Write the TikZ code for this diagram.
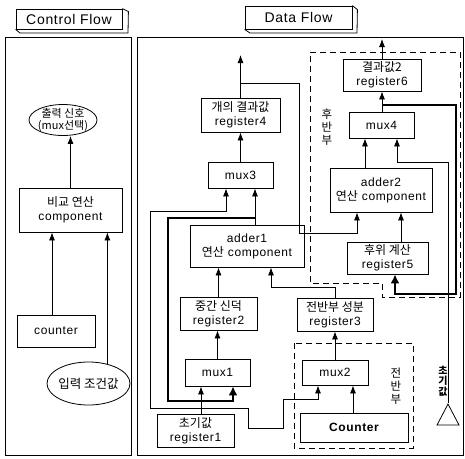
\documentclass[tikz,border=0pt]{standalone}
\usepackage{fontspec}
\setmainfont{Liberation Sans}[LetterSpace=5]
\newfontfamily\kor{Noto Sans CJK KR}
\usetikzlibrary{arrows.meta,shapes.geometric}
\begin{document}
\begin{tikzpicture}[x=1pt,y=-1pt,
  box/.style={draw,line width=0.8pt,inner sep=0pt,align=center,font=\fontsize{12}{14}\selectfont},
  arr/.style={draw,line width=0.8pt,-{Latex[length=8pt,width=6pt]}},
  thk/.style={draw,line width=2.5pt,-{Latex[length=9pt,width=9pt]}},
  frame/.style={draw,line width=1pt},
  grp/.style={draw,line width=1pt,dash pattern=on 6pt off 4pt},
  vlab/.style={align=center,inner sep=0pt,font=\kor\fontsize{11.5}{13}\selectfont},
  tab/.style={draw,line width=0.8pt,inner sep=0pt,font=\fontsize{14}{16}\selectfont},
  ell/.style={ellipse,draw,line width=0.8pt,inner sep=0pt},
  tri/.style={isosceles triangle,isosceles triangle stretches,shape border rotate=90,draw,line width=0.8pt,inner sep=0pt,minimum width=22pt,minimum height=21pt}]
\useasboundingbox (0,0) rectangle (465,458);
\fill[white] (0,0) rectangle (465,458);

% tabs
\node[tab,minimum width=106pt,minimum height=20pt] (cf) at (69,19) {Control Flow};
\draw[line width=0.8pt] (cf.north east) -- ++(6,3) -- (128,33) -- (20,33) -- (cf.south west);
\node[tab,minimum width=107pt,minimum height=23pt] (df) at (298.5,17.5) {Data Flow};
\draw[line width=0.8pt] (df.north east) -- ++(5,4) -- (357,33) -- (250,33) -- (df.south west);

% panels
\draw[frame] (5,37) rectangle (131,455);
\draw[frame] (137,37) rectangle (463,455);

% control flow
\node[ell,minimum width=68pt,minimum height=31pt] (out) at (63,120) {};
\node[align=center,inner sep=0pt,font=\kor\fontsize{11}{12.5}\selectfont] (outT) at (out) {출력 신호\\(mux선택)};
\node[box,minimum width=103pt,minimum height=44pt] (cmp) at (70.5,210) {{\kor 비교 연산}\\component};
\node[box,minimum width=78pt,minimum height=32pt] (cnt) at (56,331) {counter};
\node[ell,minimum width=83pt,minimum height=43pt] (cond) at (88.5,383.5) {};
\node[inner sep=0pt,font=\kor\fontsize{12.5}{14}\selectfont] (condT) at (cond) {입력 조건값};

\draw[arr] (cmp.north) -- (cmp.north |- out.south);
\draw[arr] ([xshift=-4pt]cnt.north) -- ([xshift=-4pt]cnt.north |- cmp.south);
\draw[arr] (cond.46) -- (cond.46 |- cmp.south);

% data flow nodes
\node[box,minimum width=79pt,minimum height=34pt] (r4) at (240.5,115) {{\kor 개의 결과값}\\register4};
\node[box,minimum width=65pt,minimum height=26pt] (m3) at (240.5,175) {mux3};
\node[box,minimum width=114pt,minimum height=42pt] (a1) at (247,246) {adder1\\{\kor 연산} component};
\node[box,minimum width=77pt,minimum height=33pt] (r2) at (218.5,313.5) {{\kor 중간 신덕}\\register2};
\node[box,minimum width=65pt,minimum height=27pt] (m1) at (217.5,372.5) {mux1};
\node[box,minimum width=77pt,minimum height=33pt] (r1) at (195.5,430.5) {{\kor 초기값}\\register1};
\node[box,minimum width=76pt,minimum height=33pt] (r3) at (335,314.5) {{\kor 전반부 성분}\\register3};
\node[box,minimum width=66pt,minimum height=25pt] (m2) at (335,372.5) {mux2};
\node[box,minimum width=108pt,minimum height=29pt,font=\fontsize{12}{14}\selectfont\bfseries] (c2) at (354,427.5) {Counter};
\node[box,minimum width=78pt,minimum height=32pt] (r6) at (382,75) {{\kor 결과값2}\\register6};
\node[box,minimum width=65pt,minimum height=26pt] (m4) at (381.5,125) {mux4};
\node[box,minimum width=102pt,minimum height=44pt] (a2) at (381,190) {adder2\\{\kor 연산} component};
\node[box,minimum width=81pt,minimum height=32pt] (r5) at (387.5,258) {{\kor 후위 계산}\\register5};
\node[tri,anchor=apex] (init) at (448,403) {};

\node[vlab] (lb1) at (327,127) {후\\반\\부};
\node[vlab] (lb2) at (396,386) {전\\반\\부};
\node[vlab,font=\kor\bfseries\fontsize{10}{10.5}\selectfont] (lb3) at (443,381) {초\\기\\값};

% groups
\draw[grp] (294,343) rectangle (413,448);
\draw[grp] (310,52) -- (460,52) -- (460,297) -- (382,297) -- (382,283) -- (310,283) -- cycle;

% connectors
\coordinate (o4) at (240.5,55);
\coordinate (o6) at (382,39);
\draw[arr] (r4.north) -- (o4);
\draw[arr] (r4.north |- 0,83) -| (299,233) -| ([xshift=-24pt]a2.south);
\draw[arr] (m3.north) -- (r4.south);
\draw[arr] ([xshift=14.5pt]m3.south |- a1.north) -- ([xshift=14.5pt]m3.south);
\draw[thk] ([xshift=14.5pt]m3.south |- 0,218) -| (168,401) -| ([xshift=15.5pt]m1.south);
\draw[arr] ([xshift=-16.5pt]m1.south |- r1.north) -- ([xshift=-16.5pt]m1.south);
\draw[arr] ([xshift=-16.5pt]m1.south |- 0,408) -| (150,211) -| ([xshift=-14.5pt]m3.south);
\draw[arr] ([xshift=-16.5pt]m1.south |- 0,408) -| (248,428) -| (283,399) -| ([xshift=-17pt]m2.south);
\draw[arr] (r2.north) -- (r2.north |- a1.south);
\draw[arr] (m1.north) -- (m1.north |- r2.south);
\draw[arr] (r3.north) -- ++(0,-10) -| ([xshift=24pt]a1.south);
\draw[arr] (m2.north) -- (r3.south);
\draw[arr] ([xshift=18pt]m2.south |- c2.north) -- ([xshift=18pt]m2.south);
\draw[arr] (r6.south |- m4.north) -- (r6.south);
\draw[arr] (r6.north) -- (o6);
\draw[thk] (r6.south |- 0,105) -| (456,294) -| ([xshift=7.5pt]r5.south);
\draw[arr] ([xshift=-16.5pt]m4.south |- a2.north) -- ([xshift=-16.5pt]m4.south);
\draw[arr] (init.apex) |- ([xshift=15.5pt]m4.south |- 0,162) -- ([xshift=15.5pt]m4.south);
\draw[arr] ([xshift=13.5pt]r5.north) -- ([xshift=13.5pt]r5.north |- a2.south);
\end{tikzpicture}
\end{document}
